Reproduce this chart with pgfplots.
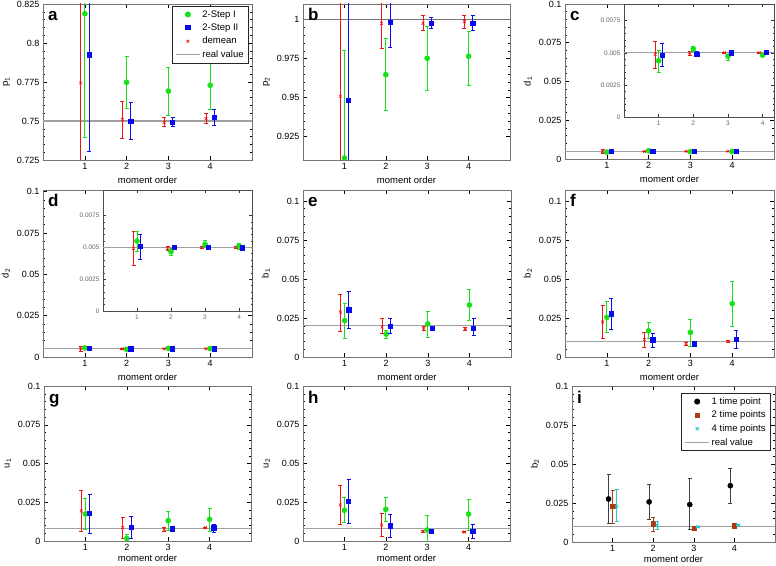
\documentclass[border=0pt]{standalone}
\usepackage{fontspec}
\setmainfont{Liberation Sans}
\usepackage{pgfplots}
\pgfplotsset{compat=1.18}
\usepackage{pgfplotstable}

\definecolor{gM}{RGB}{25,225,25}
\definecolor{rM}{RGB}{240,20,20}
\definecolor{bM}{RGB}{10,10,240}
\definecolor{brM}{RGB}{170,60,20}
\definecolor{cyM}{RGB}{40,200,200}
\definecolor{realM}{RGB}{160,160,160}

% columns: x, then y / lo / hi for red (r), green (g), blue (b)
\pgfplotstableread{
x ry rlo rhi gy glo ghi by blo bhi
1 0.7744 0.70 0.85 0.8188 0.7397 0.90 0.7925 0.7306 0.855
2 0.7511 0.7387 0.7628 0.7748 0.7579 0.7915 0.7500 0.7382 0.7622
3 0.7491 0.7466 0.7526 0.7692 0.7536 0.7844 0.7494 0.7468 0.7526
4 0.7515 0.7483 0.7551 0.7729 0.7573 0.7883 0.7526 0.7472 0.7577
}\tabA
\pgfplotstableread{
x ry rlo rhi gy glo ghi by blo bhi
1 0.9509 0.88 1.02 0.9113 0.84 0.9801 0.9483 0.88 1.02
2 0.9976 0.9818 1.0134 0.9647 0.9417 0.9882 0.9985 0.9823 1.0147
3 0.9976 0.9929 1.0024 0.9752 0.9545 0.9959 0.9976 0.9942 1.0015
4 0.9987 0.9947 1.0028 0.9765 0.9577 0.9927 0.9979 0.9929 1.0026
}\tabB
\pgfplotstableread{
x ry rlo rhi gy glo ghi by blo bhi
1 0.00487 0.00375 0.00591 0.00438 0.00344 0.00521 0.00479 0.00396 0.00570
2 0.00487 0.00479 0.00510 0.00531 0.00513 0.00552 0.00492 0.00482 0.00508
3 0.00500 0.00495 0.00505 0.00474 0.00440 0.00487 0.00500 0.00495 0.00505
4 0.00500 0.00495 0.00505 0.00482 0.00469 0.00497 0.00505 0.00497 0.00513
}\tabC
\pgfplotstableread{
x ry rlo rhi gy glo ghi by blo bhi
1 0.00492 0.00361 0.00623 0.00550 0.00466 0.00628 0.00510 0.00406 0.00605
2 0.00492 0.00479 0.00510 0.00466 0.00440 0.00492 0.00500 0.00487 0.00513
3 0.00500 0.00495 0.00505 0.00524 0.00500 0.00558 0.00500 0.00490 0.00510
4 0.00500 0.00495 0.00505 0.00510 0.00487 0.00531 0.00497 0.00487 0.00507
}\tabD
\pgfplotstableread{
x ry rlo rhi gy glo ghi by blo bhi
1 0.0288 0.0165 0.0404 0.0233 0.0118 0.0346 0.0303 0.0186 0.0419
2 0.0192 0.0150 0.0246 0.0147 0.0118 0.0173 0.0199 0.0152 0.0250
3 0.0186 0.0169 0.0194 0.0212 0.0128 0.0295 0.0186 0.0178 0.0194
4 0.0180 0.0173 0.0187 0.0333 0.0235 0.0432 0.0186 0.0139 0.0246
}\tabE
\pgfplotstableread{
x ry rlo rhi gy glo ghi by blo bhi
1 0.0224 0.0118 0.0330 0.0254 0.0156 0.0355 0.0278 0.0175 0.0374
2 0.0113 0.0064 0.0160 0.0167 0.0118 0.0222 0.0111 0.0064 0.0150
3 0.0085 0.0077 0.0093 0.0158 0.0068 0.0244 0.0085 0.0080 0.0090
4 0.0100 0.0095 0.0105 0.0342 0.0194 0.0485 0.0115 0.0053 0.0171
}\tabF
\pgfplotstableread{
x ry rlo rhi gy glo ghi by blo bhi
1 0.0194 0.0060 0.0329 0.0174 0.0075 0.0273 0.0178 0.0049 0.0301
2 0.0086 0.0015 0.0155 0.0017 0.0006 0.0043 0.0088 0.0015 0.0161
3 0.0075 0.0060 0.0090 0.0131 0.0069 0.0191 0.0080 0.0075 0.0085
4 0.0086 0.0081 0.0091 0.0140 0.0060 0.0211 0.0086 0.0058 0.0108
}\tabG
\pgfplotstableread{
x ry rlo rhi gy glo ghi by blo bhi
1 0.0232 0.0108 0.0359 0.0198 0.0118 0.0280 0.0258 0.0112 0.0398
2 0.0103 0.0028 0.0178 0.0204 0.0125 0.0280 0.0099 0.0024 0.0172
3 0.0062 0.0057 0.0067 0.0071 -0.0025 0.0166 0.0065 0.0060 0.0070
4 0.0058 0.0054 0.0062 0.0174 0.0071 0.0269 0.0065 0.0019 0.0110
}\tabH
% black (k), brown (n), cyan (c)
\pgfplotstableread{
x ky klo khi ny nlo nhi cy clo chi
1 0.0276 0.0119 0.0436 0.0227 0.0119 0.0333 0.0227 0.0130 0.0339
2 0.0257 0.0143 0.0371 0.0117 0.0069 0.0160 0.0106 0.0082 0.0130
3 0.0240 0.0078 0.0406 0.0091 0.0087 0.0095 0.0097 0.0094 0.0100
4 0.0361 0.0246 0.0473 0.0104 0.0101 0.0107 0.0108 0.0105 0.0111
}\tabI

\pgfplotsset{
  panel/.style={
    scale only axis, xmin=0, xmax=5, xtick={1,2,3,4},
    minor y tick num=4, tick align=inside,
    axis line style={black!55, line width=0.9pt},
    major tick length=4pt, minor tick length=2pt,
    every tick/.style={black, line width=0.5pt},
    ticklabel style={font=\fontsize{9}{10}\selectfont},
    label style={font=\fontsize{9.5}{11}\selectfont},
    /pgf/number format/assume math mode=true,
    /pgf/number format/fixed, /pgf/number format/precision=4,
    scaled y ticks=false,
    xlabel={moment order}, clip marker paths=true,
  },
  lastrow/.style={xlabel style={yshift=3pt}},
  inset/.style={
    scale only axis, xmin=0, ymin=0, xtick={1,2,3,4},
    ytick={0,0.0025,0.005,0.0075}, minor y tick num=4, tick align=inside,
    axis background/.style={fill=white},
    axis line style={black!70, line width=0.6pt},
    major tick length=3pt, minor tick length=1.5pt,
    every tick/.style={black!80, line width=0.4pt},
    ticklabel style={font=\fontsize{6.5}{7}\selectfont, black!60},
    /pgf/number format/assume math mode=true,
    /pgf/number format/fixed, /pgf/number format/precision=4,
    scaled y ticks=false, clip marker paths=true,
  },
  legbox/.style={legend style={at={(1,1)}, anchor=north east,
    font=\fontsize{9.5}{11}\selectfont, draw=black!85, line width=0.8pt,
    inner xsep=3pt, inner ysep=2pt, row sep=1.2pt}, legend cell align=left},
  sr/.style={rM, mark=x, mark size=2pt, mark options={line width=0.6pt}},
  sg/.style={gM, mark=*, mark size=2.6pt},
  sb/.style={bM, mark=square*, mark size=2.1pt},
  sk/.style={black, mark=*, mark size=2.6pt},
  sn/.style={brM, mark=square*, mark size=2.1pt},
  sc/.style={cyM, mark=x, mark size=2.2pt, mark options={line width=0.8pt}},
  realline/.style={realM, line width=1.2pt, forget plot},
  legend image code/.code={\draw[mark repeat=2,mark phase=2,#1]
    plot coordinates {(0cm,0cm) (0.42cm,0cm) (0.84cm,0cm)};},
}
\tikzset{letter/.style={anchor=base west, xshift=5pt, yshift=-17pt, inner sep=0pt,
    font=\fontsize{17}{17}\selectfont\bfseries}}

% style, table, x offset, column prefix, error bar colour
\newcommand{\series}[5]{%
  \addplot[#1, only marks, forget plot,
    error bars/.cd, y dir=both, y explicit, error mark=|,
    error bar style={line width=0.7pt, #5},
    error mark options={line width=0.7pt, mark size=2pt, #5}]
  table[x expr=\thisrow{x}+(#3), y=#4y,
        y error plus expr=\thisrow{#4hi}-\thisrow{#4y},
        y error minus expr=\thisrow{#4y}-\thisrow{#4lo}] {#2};
}
\newcommand{\rgb}[1]{\series{sr}{#1}{-0.1}{r}{rM}\series{sg}{#1}{0}{g}{gM}\series{sb}{#1}{0.1}{b}{bM}}

\begin{document}
\begin{tikzpicture}
\path[use as bounding box] (0,0) rectangle (776pt,565pt);

% a
\begin{axis}[panel, at={(43pt,405pt)}, anchor=south west, width=209pt, height=156pt,
  ymin=0.725, ymax=0.825, ytick={0.725,0.75,0.775,0.8,0.825}, ylabel={p\textsubscript{1}},
  legbox, legend style={xshift=-3pt, yshift=-2pt}]
\addlegendimage{only marks, sg}\addlegendentry{2-Step I}
\addlegendimage{only marks, sb}\addlegendentry{2-Step II}
\addlegendimage{only marks, sr}\addlegendentry{demean}
\addlegendimage{realM, line width=1.2pt}\addlegendentry{real value}
\addplot[realline] coordinates {(0,0.75) (5,0.75)};
\rgb{\tabA}
\node[letter] at (rel axis cs:0,1) {a};
\end{axis}

% b
\begin{axis}[panel, at={(303pt,405pt)}, anchor=south west, width=207pt, height=156pt,
  ymin=0.91, ymax=1.01, ytick={0.925,0.95,0.975,1}, ylabel={p\textsubscript{2}}]
\addplot[realline, black!55] coordinates {(0,1) (5,1)};
\rgb{\tabB}
\node[letter] at (rel axis cs:0,1) {b};
\end{axis}

% c
\begin{axis}[panel, at={(565pt,406pt)}, anchor=south west, width=209pt, height=155pt,
  ymin=0, ymax=0.1, ytick={0,0.025,0.05,0.075,0.1}, ylabel={d\textsubscript{1}}]
\addplot[realline] coordinates {(0,0.005) (5,0.005)};
\rgb{\tabC}
\node[letter] at (rel axis cs:0,1) {c};
\end{axis}
\begin{axis}[inset, at={(624pt,448pt)}, anchor=south west, width=150pt, height=113pt,
  xmax=4.33, ymax=0.0088]
\addplot[realline] coordinates {(0,0.005) (4.4,0.005)};
\rgb{\tabC}
\end{axis}

% d
\begin{axis}[panel, at={(43pt,208pt)}, anchor=south west, width=209pt, height=167pt,
  ymin=0, ymax=0.101, ytick={0,0.025,0.05,0.075,0.1}, ylabel={d\textsubscript{2}}]
\addplot[realline] coordinates {(0,0.005) (5,0.005)};
\rgb{\tabD}
\node[letter] at (rel axis cs:0,1) {d};
\end{axis}
\begin{axis}[inset, at={(103pt,254pt)}, anchor=south west, width=149pt, height=121pt,
  xmax=4.38, ymax=0.0095]
\addplot[realline] coordinates {(0,0.005) (4.4,0.005)};
\rgb{\tabD}
\end{axis}

% e
\begin{axis}[panel, at={(303pt,208pt)}, anchor=south west, width=208pt, height=167pt,
  ymin=0, ymax=0.107, ytick={0,0.025,0.05,0.075,0.1}, ylabel={b\textsubscript{1}}]
\addplot[realline] coordinates {(0,0.02) (5,0.02)};
\rgb{\tabE}
\node[letter] at (rel axis cs:0,1) {e};
\end{axis}

% f
\begin{axis}[panel, at={(565pt,208pt)}, anchor=south west, width=209pt, height=167pt,
  ymin=0, ymax=0.107, ytick={0,0.025,0.05,0.075,0.1}, ylabel={b\textsubscript{2}}]
\addplot[realline] coordinates {(0,0.01) (5,0.01)};
\rgb{\tabF}
\node[letter] at (rel axis cs:0,1) {f};
\end{axis}

% g
\begin{axis}[panel, lastrow, at={(44pt,24pt)}, anchor=south west, width=207pt, height=155pt,
  ymin=0, ymax=0.1, ytick={0,0.025,0.05,0.075,0.1}, ylabel={u\textsubscript{1}}]
\addplot[realline] coordinates {(0,0.008) (5,0.008)};
\rgb{\tabG}
\node[letter] at (rel axis cs:0,1) {g};
\end{axis}

% h
\begin{axis}[panel, lastrow, at={(303pt,24pt)}, anchor=south west, width=207pt, height=155pt,
  ymin=0, ymax=0.1, ytick={0,0.025,0.05,0.075,0.1}, ylabel={u\textsubscript{2}}]
\addplot[realline] coordinates {(0,0.008) (5,0.008)};
\rgb{\tabH}
\node[letter] at (rel axis cs:0,1) {h};
\end{axis}

% i
\begin{axis}[panel, lastrow, at={(572pt,23pt)}, anchor=south west, width=203pt, height=156pt,
  ymin=0, ymax=0.1, ytick={0,0.025,0.05,0.075,0.1}, ylabel={b\textsubscript{2}},
  legbox, legend style={xshift=-4pt, yshift=-7pt}]
\addlegendimage{only marks, sk}\addlegendentry{1 time point}
\addlegendimage{only marks, sn}\addlegendentry{2 time points}
\addlegendimage{only marks, sc}\addlegendentry{4 time points}
\addlegendimage{realM, line width=1.2pt}\addlegendentry{real value}
\addplot[realline] coordinates {(0,0.01) (5,0.01)};
\series{sk}{\tabI}{-0.1}{k}{black!75}
\series{sn}{\tabI}{0}{n}{brM}
\series{sc}{\tabI}{0.1}{c}{cyM}
\node[letter] at (rel axis cs:0,1) {i};
\end{axis}
\end{tikzpicture}
\end{document}
